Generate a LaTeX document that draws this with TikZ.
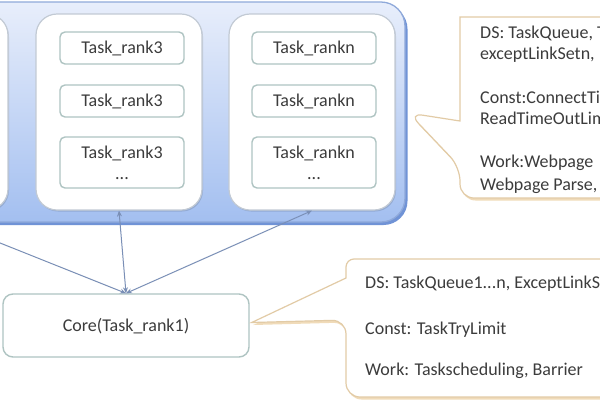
\documentclass[tikz,border=0pt]{standalone}
\usepackage{fontspec}
\setmainfont{Carlito}
\usetikzlibrary{arrows.meta,calc,shadows}
\definecolor{outerfillA}{HTML}{E8EEFB}
\definecolor{outerfillB}{HTML}{A3BFF0}
\definecolor{outerline}{HTML}{8FA9DA}
\definecolor{outershadow}{HTML}{7093D6}
\definecolor{innerline}{HTML}{C2CAD4}
\definecolor{taskline}{HTML}{AFC4C2}
\definecolor{arrowc}{HTML}{7A8FB6}
\definecolor{calloutline}{HTML}{E2CBA6}
\definecolor{calloutshadow}{HTML}{EDD3A8}
\definecolor{txt}{HTML}{3C3C3C}
\tikzset{
  lbl/.style={font=\fontsize{18}{21}\selectfont, text=txt},
  outerbox/.style={rounded corners=24pt, draw=outerline, line width=1.3pt,
    top color=outerfillA, bottom color=outerfillB, minimum width=605pt, minimum height=220pt},
  innerbox/.style={rounded corners=21pt, draw=innerline, line width=1.2pt, fill=white,
    minimum width=#1, minimum height=196pt,
    drop shadow={shadow xshift=1pt, shadow yshift=-1.5pt, fill=black, opacity=0.12}},
  taskbox/.style={lbl, rounded corners=5pt, draw=taskline, line width=1.4pt, fill=white,
    minimum width=124pt, minimum height=32pt, text height=11.6pt, text depth=0pt, inner sep=0pt},
  taskbig/.style={lbl, rounded corners=5pt, draw=taskline, line width=1.4pt, fill=white,
    minimum width=124pt, minimum height=51pt, align=center, inner sep=0pt},
  corebox/.style={lbl, rounded corners=10pt, draw=taskline, line width=1.4pt, fill=white,
    minimum width=246pt, minimum height=63pt, text height=11.6pt, text depth=0pt},
  conn/.style={draw=arrowc, line width=1pt, {Stealth[length=6pt,width=5pt]}-{Stealth[length=6pt,width=5pt]}},
  callout/.style={draw=calloutline, line width=1.2pt, fill=white},
  cshadow/.style={fill=calloutshadow, opacity=0.8},
  ctext/.style={lbl, anchor=base west, inner sep=0pt},
}
\begin{document}
\begin{tikzpicture}[x=1pt,y=-1pt]
\useasboundingbox (0,0) rectangle (600,400);
\clip (0,0) rectangle (600,400);
\fill[white] (0,0) rectangle (600,400);

% outer container
\fill[outershadow, rounded corners=24pt] (-198,5) rectangle (407.5,225);
\node[outerbox] (outer) at (102.5,112) {};

% inner groups
\node[innerbox=178pt] (lbox) at (-81,112) {};
\node[innerbox=166pt] (box2) at (119,112) {};
\node[innerbox=166pt] (box3) at (312,112) {};

% tasks
\node[taskbox] (t2a) at (122,48) {Task\_rank3};
\node[taskbox] (t2b) at (122,101) {Task\_rank3};
\node[taskbig] (t2c) at (122,162.5) {Task\_rank3\\...};
\node[taskbox] (t3a) at (314,48) {Task\_rankn};
\node[taskbox] (t3b) at (314,101) {Task\_rankn};
\node[taskbig] (t3c) at (314,162.5) {Task\_rankn\\...};

% core
\node[corebox] (core) at (126,325.5) {Core(Task\_rank1)};

% connectors
\draw[conn] (lbox.south) -- (core.north);
\draw[conn] (box2.south) -- (core.north);
\draw[conn] (box3.south) -- (core.north);

% callout 1
\coordinate (c1tip) at ($(outer.east)+(3,1)$);
\fill[cshadow] (541,19.5) [rounded corners=14pt] -- (621.5,19.5) -- (621.5,200.5) -- (461.5,200.5) -- (461.5,169.5) -- ($(c1tip)+(1.5,2.5)$) [sharp corners] -- (461.5,123.5) -- (461.5,19.5) [rounded corners=14pt] -- cycle;
\path[callout] (540,17) [rounded corners=14pt] -- (620,17) -- (620,198) -- (460,198) -- (460,167) -- (c1tip) [sharp corners] -- (460,121) -- (460,17) [rounded corners=14pt] -- cycle;
\node[ctext] (a1) at (480,38.5) {DS: TaskQueue, T};
\node[ctext] (a2) at (480,59) {exceptLinkSetn,};
\node[ctext] (a3) at (480,103.5) {Const:ConnectTi};
\node[ctext] (a4) at (480,124) {ReadTimeOutLim};
\node[ctext] (a5) at (480,167.5) {Work:Webpage};
\node[ctext] (a6) at (480,190.5) {Webpage Parse,};

% callout 2
\coordinate (c2tip) at ($(core.east)+(2,-3)$);
\fill[cshadow] (481.5,261.5) [rounded corners=14pt] -- (621.5,261.5) -- (621.5,399.5) -- (347.5,399.5) -- (347.5,322.5) [sharp corners] -- ($(c2tip)+(1.5,2.5)$) -- (347.5,280.5) [rounded corners=8pt] -- (347.5,261.5) [rounded corners=14pt] -- cycle;
\path[callout] (480,259) [rounded corners=14pt] -- (620,259) -- (620,397) -- (346,397) -- (346,320) [sharp corners] -- (c2tip) -- (346,278) [rounded corners=8pt] -- (346,259) [rounded corners=14pt] -- cycle;
\node[ctext] (b1) at (365,288.5) {DS: TaskQueue1...n, ExceptLinkS};
\node[ctext] (b2) at (365,334.5) {Const: TaskTryLimit};
\node[ctext] (b3) at (365,375.5) {Work: Taskscheduling, Barrier};
\end{tikzpicture}
\end{document}
